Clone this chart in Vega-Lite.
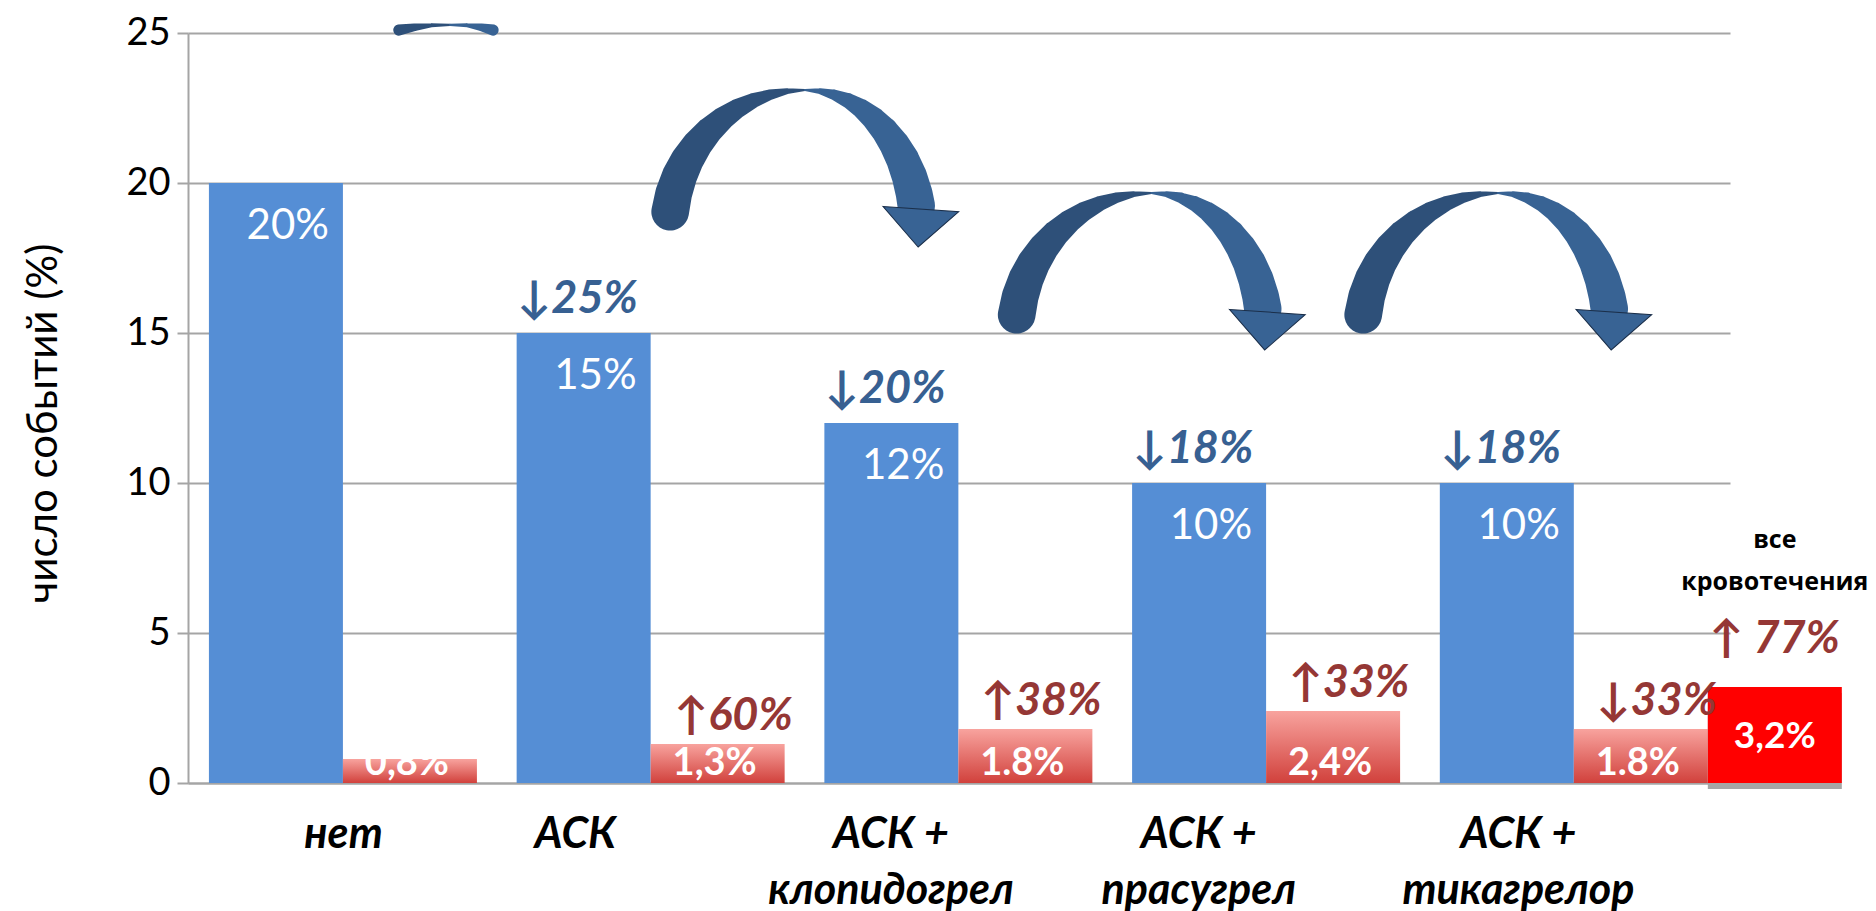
{
  "$schema": "https://vega.github.io/schema/vega-lite/v6.json",
  "width": 1542,
  "height": 750,
  "autosize": {"type": "none"},
  "padding": {"left": 188, "top": 33, "right": 146, "bottom": 128},
  "background": "white",
  "config": {
    "view": {"stroke": null},
    "font": "Lato",
    "axisY": {
      "tickCount": 5,
      "grid": true,
      "gridColor": "#A5A5A5",
      "gridWidth": 2,
      "domainColor": "#A5A5A5",
      "domainWidth": 2,
      "tickColor": "#A5A5A5",
      "tickWidth": 2,
      "tickSize": 11,
      "labelFont": "Lato",
      "labelFontSize": 38,
      "labelColor": "black",
      "labelPadding": 7,
      "titleFont": "Lato",
      "titleFontSize": 42,
      "titleFontWeight": "normal",
      "titleColor": "black",
      "titleAngle": -90,
      "titleAlign": "center",
      "titleBaseline": "middle",
      "titleX": -145,
      "titleY": 390
    }
  },
  "datasets": {
    "bars": [
      {"group": "нет", "series": "ишемические события", "value": 20, "label": "20%", "change": null},
      {"group": "АСК", "series": "ишемические события", "value": 15, "label": "15%", "change": "↓25%"},
      {"group": "АСК + клопидогрел", "series": "ишемические события", "value": 12, "label": "12%", "change": "↓20%"},
      {"group": "АСК + прасугрел", "series": "ишемические события", "value": 10, "label": "10%", "change": "↓18%"},
      {"group": "АСК + тикагрелор", "series": "ишемические события", "value": 10, "label": "10%", "change": "↓18%"},
      {"group": "нет", "series": "большие кровотечения", "value": 0.8, "label": "0,8%", "change": null},
      {"group": "АСК", "series": "большие кровотечения", "value": 1.3, "label": "1,3%", "change": "↑60%"},
      {"group": "АСК + клопидогрел", "series": "большие кровотечения", "value": 1.8, "label": "1.8%", "change": "↑38%"},
      {"group": "АСК + прасугрел", "series": "большие кровотечения", "value": 2.4, "label": "2,4%", "change": "↑33%"},
      {"group": "АСК + тикагрелор", "series": "большие кровотечения", "value": 1.8, "label": "1.8%", "change": "↓33%"},
      {"group": "АСК + тикагрелор", "series": "все кровотечения", "value": 3.2, "label": "3,2%", "change": "↑ 77%"}
    ],
    "arrows": [
      {"arrow": "a1", "part": "left", "u": 0.684, "v": 25.1, "t": 0.28},
      {"arrow": "a1", "part": "left", "u": 0.735, "v": 25.19, "t": 0.18},
      {"arrow": "a1", "part": "left", "u": 0.790, "v": 25.255, "t": 0.08},
      {"arrow": "a1", "part": "left", "u": 0.8495, "v": 25.27, "t": 0.03},
      {"arrow": "a1", "part": "right", "u": 0.8495, "v": 25.27, "t": 0.03},
      {"arrow": "a1", "part": "right", "u": 0.905, "v": 25.255, "t": 0.08},
      {"arrow": "a1", "part": "right", "u": 0.950, "v": 25.19, "t": 0.18},
      {"arrow": "a1", "part": "right", "u": 0.989, "v": 25.1, "t": 0.28},

      {"arrow": "a2", "part": "left", "u": 1.5635, "v": 19.042, "t": 0.991},
      {"arrow": "a2", "part": "left", "u": 1.5747, "v": 19.641, "t": 0.966},
      {"arrow": "a2", "part": "left", "u": 1.5932, "v": 20.219, "t": 0.924},
      {"arrow": "a2", "part": "left", "u": 1.6187, "v": 20.767, "t": 0.866},
      {"arrow": "a2", "part": "left", "u": 1.6508, "v": 21.274, "t": 0.793},
      {"arrow": "a2", "part": "left", "u": 1.6888, "v": 21.733, "t": 0.707},
      {"arrow": "a2", "part": "left", "u": 1.7322, "v": 22.136, "t": 0.609},
      {"arrow": "a2", "part": "left", "u": 1.7802, "v": 22.475, "t": 0.5},
      {"arrow": "a2", "part": "left", "u": 1.8319, "v": 22.745, "t": 0.383},
      {"arrow": "a2", "part": "left", "u": 1.8865, "v": 22.941, "t": 0.259},
      {"arrow": "a2", "part": "left", "u": 1.9431, "v": 23.060, "t": 0.131},
      {"arrow": "a2", "part": "left", "u": 2.0006, "v": 23.100, "t": 0.03},
      {"arrow": "a2", "part": "right", "u": 2.0006, "v": 23.100, "t": 0.03},
      {"arrow": "a2", "part": "right", "u": 2.0485, "v": 23.060, "t": 0.131},
      {"arrow": "a2", "part": "right", "u": 2.0955, "v": 22.941, "t": 0.259},
      {"arrow": "a2", "part": "right", "u": 2.1409, "v": 22.745, "t": 0.383},
      {"arrow": "a2", "part": "right", "u": 2.1838, "v": 22.475, "t": 0.5},
      {"arrow": "a2", "part": "right", "u": 2.2237, "v": 22.136, "t": 0.609},
      {"arrow": "a2", "part": "right", "u": 2.2597, "v": 21.733, "t": 0.707},
      {"arrow": "a2", "part": "right", "u": 2.2913, "v": 21.274, "t": 0.793},
      {"arrow": "a2", "part": "right", "u": 2.3180, "v": 20.767, "t": 0.866},
      {"arrow": "a2", "part": "right", "u": 2.3392, "v": 20.219, "t": 0.924},
      {"arrow": "a2", "part": "right", "u": 2.3546, "v": 19.641, "t": 0.966},
      {"arrow": "a2", "part": "right", "u": 2.3615, "v": 19.243, "t": 0.985},

      {"arrow": "a3", "part": "left", "u": 2.6870, "v": 15.609, "t": 0.991},
      {"arrow": "a3", "part": "left", "u": 2.6982, "v": 16.208, "t": 0.966},
      {"arrow": "a3", "part": "left", "u": 2.7167, "v": 16.786, "t": 0.924},
      {"arrow": "a3", "part": "left", "u": 2.7422, "v": 17.334, "t": 0.866},
      {"arrow": "a3", "part": "left", "u": 2.7743, "v": 17.841, "t": 0.793},
      {"arrow": "a3", "part": "left", "u": 2.8123, "v": 18.300, "t": 0.707},
      {"arrow": "a3", "part": "left", "u": 2.8557, "v": 18.703, "t": 0.609},
      {"arrow": "a3", "part": "left", "u": 2.9037, "v": 19.042, "t": 0.5},
      {"arrow": "a3", "part": "left", "u": 2.9554, "v": 19.312, "t": 0.383},
      {"arrow": "a3", "part": "left", "u": 3.0100, "v": 19.508, "t": 0.259},
      {"arrow": "a3", "part": "left", "u": 3.0666, "v": 19.627, "t": 0.131},
      {"arrow": "a3", "part": "left", "u": 3.1241, "v": 19.667, "t": 0.03},
      {"arrow": "a3", "part": "right", "u": 3.1241, "v": 19.667, "t": 0.03},
      {"arrow": "a3", "part": "right", "u": 3.1720, "v": 19.627, "t": 0.131},
      {"arrow": "a3", "part": "right", "u": 3.2190, "v": 19.508, "t": 0.259},
      {"arrow": "a3", "part": "right", "u": 3.2644, "v": 19.312, "t": 0.383},
      {"arrow": "a3", "part": "right", "u": 3.3073, "v": 19.042, "t": 0.5},
      {"arrow": "a3", "part": "right", "u": 3.3472, "v": 18.703, "t": 0.609},
      {"arrow": "a3", "part": "right", "u": 3.3832, "v": 18.300, "t": 0.707},
      {"arrow": "a3", "part": "right", "u": 3.4148, "v": 17.841, "t": 0.793},
      {"arrow": "a3", "part": "right", "u": 3.4415, "v": 17.334, "t": 0.866},
      {"arrow": "a3", "part": "right", "u": 3.4627, "v": 16.786, "t": 0.924},
      {"arrow": "a3", "part": "right", "u": 3.4781, "v": 16.208, "t": 0.966},
      {"arrow": "a3", "part": "right", "u": 3.4850, "v": 15.810, "t": 0.985},

      {"arrow": "a4", "part": "left", "u": 3.8106, "v": 15.609, "t": 0.991},
      {"arrow": "a4", "part": "left", "u": 3.8218, "v": 16.208, "t": 0.966},
      {"arrow": "a4", "part": "left", "u": 3.8403, "v": 16.786, "t": 0.924},
      {"arrow": "a4", "part": "left", "u": 3.8658, "v": 17.334, "t": 0.866},
      {"arrow": "a4", "part": "left", "u": 3.8979, "v": 17.841, "t": 0.793},
      {"arrow": "a4", "part": "left", "u": 3.9359, "v": 18.300, "t": 0.707},
      {"arrow": "a4", "part": "left", "u": 3.9793, "v": 18.703, "t": 0.609},
      {"arrow": "a4", "part": "left", "u": 4.0273, "v": 19.042, "t": 0.5},
      {"arrow": "a4", "part": "left", "u": 4.0790, "v": 19.312, "t": 0.383},
      {"arrow": "a4", "part": "left", "u": 4.1336, "v": 19.508, "t": 0.259},
      {"arrow": "a4", "part": "left", "u": 4.1902, "v": 19.627, "t": 0.131},
      {"arrow": "a4", "part": "left", "u": 4.2477, "v": 19.667, "t": 0.03},
      {"arrow": "a4", "part": "right", "u": 4.2477, "v": 19.667, "t": 0.03},
      {"arrow": "a4", "part": "right", "u": 4.2956, "v": 19.627, "t": 0.131},
      {"arrow": "a4", "part": "right", "u": 4.3426, "v": 19.508, "t": 0.259},
      {"arrow": "a4", "part": "right", "u": 4.3880, "v": 19.312, "t": 0.383},
      {"arrow": "a4", "part": "right", "u": 4.4309, "v": 19.042, "t": 0.5},
      {"arrow": "a4", "part": "right", "u": 4.4708, "v": 18.703, "t": 0.609},
      {"arrow": "a4", "part": "right", "u": 4.5068, "v": 18.300, "t": 0.707},
      {"arrow": "a4", "part": "right", "u": 4.5384, "v": 17.841, "t": 0.793},
      {"arrow": "a4", "part": "right", "u": 4.5651, "v": 17.334, "t": 0.866},
      {"arrow": "a4", "part": "right", "u": 4.5863, "v": 16.786, "t": 0.924},
      {"arrow": "a4", "part": "right", "u": 4.6017, "v": 16.208, "t": 0.966},
      {"arrow": "a4", "part": "right", "u": 4.6086, "v": 15.810, "t": 0.985}
    ],
    "heads": [
      {"arrow": "a2", "u": 2.3719, "v": 18.5},
      {"arrow": "a3", "u": 3.4954, "v": 15.067},
      {"arrow": "a4", "u": 4.6190, "v": 15.067}
    ]
  },
  "layer": [
    {
      "data": {"name": "bars"},
      "encoding": {
        "x": {
          "field": "group",
          "type": "nominal",
          "scale": {
            "domain": ["нет", "АСК", "АСК + клопидогрел", "АСК + прасугрел", "АСК + тикагрелор"],
            "paddingInner": 0.125,
            "paddingOuter": 0.068
          },
          "axis": {
            "title": null,
            "grid": false,
            "ticks": false,
            "tickSize": 0,
            "domainColor": "#A5A5A5",
            "domainWidth": 2,
            "labelAngle": 0,
            "labelFont": "Lato",
            "labelFontSize": 43,
            "labelFontWeight": "bold",
            "labelFontStyle": "italic",
            "labelColor": "black",
            "labelPadding": 30,
            "labelLineHeight": 56,
            "labelLimit": 0,
            "labelOverlap": false,
            "labelExpr": "indexof(datum.label, '+') > 0 ? [slice(datum.label, 0, indexof(datum.label, '+') + 1), slice(datum.label, indexof(datum.label, '+') + 2)] : datum.label",
            "labelOffset": {
              "condition": [
                {"test": "datum.value === 'нет'", "value": 0},
                {"test": "datum.value === 'АСК'", "value": -76},
                {"test": "datum.value === 'АСК + тикагрелор'", "value": -56}
              ],
              "value": -68
            }
          }
        },
        "xOffset": {
          "field": "series",
          "type": "nominal",
          "scale": {
            "domain": ["ишемические события", "большие кровотечения", "все кровотечения"],
            "range": [0, 402],
            "paddingInner": 0,
            "paddingOuter": 0
          }
        },
        "y": {
          "field": "value",
          "type": "quantitative",
          "scale": {"domain": [0, 25], "nice": false},
          "axis": {"title": "число событий (%)"}
        }
      },
      "layer": [
        {
          "transform": [{"filter": "datum.series === 'ишемические события'"}],
          "mark": {"type": "bar", "color": "#558ED5"}
        },
        {
          "transform": [{"filter": "datum.series === 'большие кровотечения'"}],
          "mark": {
            "type": "bar",
            "color": {
              "gradient": "linear",
              "x1": 0, "y1": 0, "x2": 0, "y2": 1,
              "stops": [
                {"offset": 0, "color": "#F8A39E"},
                {"offset": 1, "color": "#D1413C"}
              ]
            }
          }
        },
        {
          "transform": [{"filter": "datum.series === 'все кровотечения'"}],
          "mark": {"type": "bar", "color": "#A6A6A6", "yOffset": 6}
        },
        {
          "transform": [{"filter": "datum.series === 'все кровотечения'"}],
          "mark": {"type": "bar", "color": "#FF0000"}
        },
        {
          "transform": [{"filter": "datum.series === 'ишемические события'"}],
          "mark": {"type": "text", "font": "Lato", "fontSize": 42, "color": "white", "align": "right", "baseline": "alphabetic", "dx": 53, "dy": 56},
          "encoding": {"text": {"field": "label"}}
        },
        {
          "transform": [{"filter": "datum.series === 'ишемические события' && datum.change"}],
          "mark": {"type": "text", "font": "Lato", "fontSize": 45, "fontWeight": "bold", "fontStyle": "italic", "color": "#376092", "align": "center", "baseline": "alphabetic", "dx": -6, "dy": -20},
          "encoding": {"text": {"field": "change"}}
        },
        {
          "transform": [{"filter": "datum.series === 'большие кровотечения'"}],
          "mark": {"type": "text", "font": "Lato", "fontSize": 38, "fontWeight": "bold", "color": "white", "align": "center", "baseline": "alphabetic", "dx": -3, "dy": -8},
          "encoding": {
            "text": {"field": "label"},
            "y": {"datum": 0, "type": "quantitative", "scale": {"domain": [0, 25], "nice": false}}
          }
        },
        {
          "transform": [{"filter": "datum.series === 'большие кровотечения' && datum.change"}],
          "mark": {"type": "text", "font": "Lato", "fontSize": 45, "fontWeight": "bold", "fontStyle": "italic", "color": "#953735", "align": "center", "baseline": "alphabetic", "dx": 16, "dy": -14},
          "encoding": {"text": {"field": "change"}}
        },
        {
          "transform": [{"filter": "datum.series === 'все кровотечения'"}],
          "mark": {"type": "text", "font": "Lato", "fontSize": 37, "fontWeight": "bold", "color": "white", "align": "center", "baseline": "alphabetic", "dy": 61},
          "encoding": {"text": {"field": "label"}}
        },
        {
          "transform": [{"filter": "datum.series === 'все кровотечения'"}],
          "mark": {"type": "text", "font": "Lato", "fontSize": 45, "fontWeight": "bold", "fontStyle": "italic", "color": "#953735", "align": "center", "baseline": "alphabetic", "dy": -34},
          "encoding": {"text": {"field": "change"}}
        },
        {
          "transform": [{"filter": "datum.series === 'все кровотечения'"}],
          "mark": {"type": "text", "font": "Open Sans", "fontSize": 25, "fontWeight": "bold", "color": "black", "align": "center", "baseline": "alphabetic", "lineBreak": " ", "lineHeight": 42, "dx": 0, "dy": -139},
          "encoding": {"text": {"field": "series"}}
        }
      ]
    },
    {
      "layer": [
        {
          "data": {"name": "arrows"},
          "mark": {"type": "trail", "opacity": 1},
          "encoding": {
            "x": {"field": "u", "type": "quantitative", "scale": {"domain": [0, 5], "nice": false, "zero": false}, "axis": null},
            "y": {"field": "v", "type": "quantitative", "scale": {"domain": [0, 25], "nice": false}},
            "detail": {"field": "arrow"},
            "color": {"field": "part", "type": "nominal", "scale": {"domain": ["left", "right"], "range": ["#2E5079", "#386394"]}, "legend": null},
            "size": {"field": "t", "type": "quantitative", "scale": {"domain": [0, 1], "range": [1, 38], "zero": false}, "legend": null}
          }
        },
        {
          "data": {"name": "heads"},
          "mark": {"type": "point", "shape": "M-1,-0.5L1,-0.5L0,0.5Z", "size": 5776, "filled": true, "fill": "#386394", "opacity": 1, "stroke": "#1B2F4A", "strokeWidth": 1, "angle": 4},
          "encoding": {
            "x": {"field": "u", "type": "quantitative", "scale": {"domain": [0, 5], "nice": false, "zero": false}, "axis": null},
            "y": {"field": "v", "type": "quantitative", "scale": {"domain": [0, 25], "nice": false}}
          }
        }
      ]
    }
  ],
  "resolve": {"scale": {"x": "independent"}}
}
